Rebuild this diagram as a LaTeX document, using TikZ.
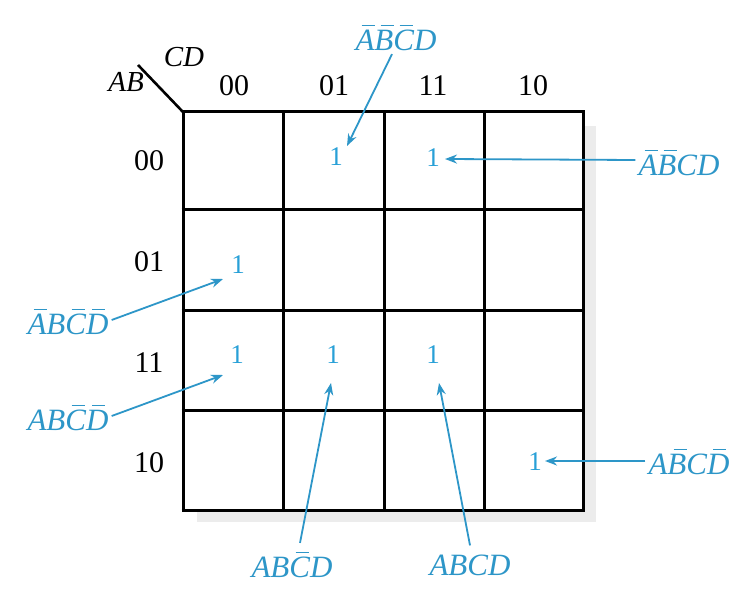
\documentclass[tikz,border=0pt]{standalone}
\usepackage{fontspec}
\setmainfont{Liberation Serif}
\usetikzlibrary{arrows.meta}
\definecolor{kblue}{RGB}{40,160,215}
\definecolor{lblue}{RGB}{45,150,200}
\newcommand{\ob}[1]{\leavevmode\rlap{\hspace{0.2em}\raisebox{0.78em}{\rule{0.42em}{0.045em}}}#1}
\tikzset{
  gridline/.style={line width=3pt, black},
  hdr/.style={font=\fontsize{30}{32}\selectfont, inner sep=0pt},
  hdri/.style={font=\fontsize{29}{31}\selectfont\itshape, inner sep=0pt},
  one/.style={font=\fontsize{27}{29}\selectfont, text=kblue, inner sep=0pt},
  lbl/.style={font=\fontsize{31}{33}\selectfont\itshape, text=lblue, inner sep=1pt},
  arr/.style={line width=1.8pt, lblue, -{Stealth[length=12pt,width=9pt]}},
}
\begin{document}
\begin{tikzpicture}[x=1pt,y=-1pt]
\path[use as bounding box, fill=white] (0,0) rectangle (735,609);
% shadow
\fill[gray!15] (197,126) rectangle (596,522);
\fill[white] (183,112) rectangle (583,510);
% grid
\foreach \x in {183,283,384,484,583} \draw[gridline] (\x,110.5) -- (\x,511.5);
\foreach \y in {112,210,310,410,510} \draw[gridline] (181.5,\y) -- (584.5,\y);
\coordinate (corner) at (183,112);
\coordinate (diag) at (138,65);
\draw[line width=2.6pt] (diag) -- (corner);
\node[hdri] (cd) at (184,57) {CD};
\node[hdri] (ab) at (126,82) {AB};
% column headers
\node[hdr] (c00) at (234,86) {00};
\node[hdr] (c01) at (334,86) {01};
\node[hdr] (c11) at (433,86) {11};
\node[hdr] (c10) at (533,86) {10};
% row headers
\node[hdr] (r00) at (149,161) {00};
\node[hdr] (r01) at (149,262) {01};
\node[hdr] (r11) at (149,363) {11};
\node[hdr] (r10) at (149,463) {10};
% ones
\node[one] (o1) at (336,157) {1};
\node[one] (o2) at (433,158) {1};
\node[one] (o3) at (238,265) {1};
\node[one] (o4) at (237,355) {1};
\node[one] (o5) at (333,355) {1};
\node[one] (o6) at (433,355) {1};
\node[one] (o7) at (535,462) {1};
% labels
\node[lbl] (l1) at (396,38) {\ob{A}\ob{B}\ob{C}D};
\node[lbl] (l2) at (679,163) {\ob{A}\ob{B}CD};
\node[lbl] (l3) at (68,322) {\ob{A}B\ob{C}\ob{D}};
\node[lbl] (l4) at (68,418) {AB\ob{C}\ob{D}};
\node[lbl] (l5) at (689,462) {A\ob{B}C\ob{D}};
\node[lbl] (l6) at (292,565) {AB\ob{C}D};
\node[lbl] (l7) at (470,565) {ABCD};
% arrow tips
\coordinate (t1) at (347,146);
\coordinate (t2) at (445,159);
\coordinate (t3) at (223,279);
\coordinate (t4) at (223,375);
\coordinate (t5) at (545,461);
\coordinate (t6) at (331,383);
\coordinate (t7) at (439,383);
\draw[arr] (l1.south) ++(-4,2) -- (t1);
\draw[arr] (l2.west) ++(-2,-3) -- (t2);
\draw[arr] (l3.east) ++(2,-2) -- (t3);
\draw[arr] (l4.east) ++(2,-2) -- (t4);
\draw[arr] (l5.west) ++(-2,-1) -- (t5);
\draw[arr] (l6.north) ++(8,-8) -- (t6);
\draw[arr] (l7.north) ++(0,-8) -- (t7);
\end{tikzpicture}
\end{document}
